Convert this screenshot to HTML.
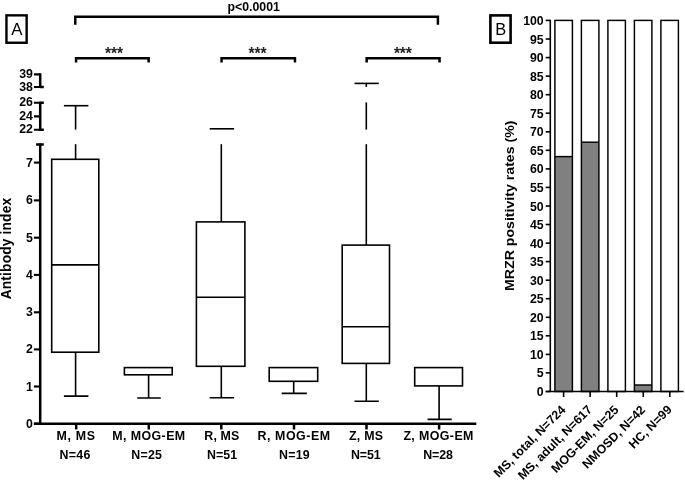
<!DOCTYPE html>
<html><head><meta charset="utf-8"><title>Figure</title>
<style>
html,body{margin:0;padding:0;background:#fff;}
svg{display:block;}
text{font-family:"Liberation Sans",Arial,sans-serif;fill:#000;}
.b{font-weight:bold;font-size:12.3px;}
.l{font-weight:bold;font-size:12.4px;}
.ax{stroke:#000;stroke-width:2.5;fill:none;}
.tk{stroke:#000;stroke-width:2.1;fill:none;}
.bx{stroke:#000;stroke-width:1.6;fill:none;}
.br{stroke:#000;stroke-width:1.45;fill:none;}
.bb{stroke:#000;stroke-width:1.6;}
</style></head><body>
<svg width="685" height="481" viewBox="0 0 685 481">
<rect width="685" height="481" fill="#fff"/>

<rect x="6.45" y="15.35" width="20.2" height="27.4" fill="#fff" stroke="#000" stroke-width="2.4"/>
<text x="16.75" y="35.4" font-size="16.8" text-anchor="middle">A</text>
<rect x="490.4" y="15.4" width="20.2" height="27.3" fill="#fff" stroke="#000" stroke-width="2.6"/>
<text x="500.65" y="34.7" font-size="16.4" text-anchor="middle">B</text>
<path class="ax" d="M75.3 24.8V16.8H437.9V24.8"/>
<text class="b" x="253.7" y="10.6" text-anchor="middle">p&lt;0.0001</text>
<path class="ax" d="M76.05 62.6V58.2H148.65V62.6"/>
<text x="114.0" y="58.6" style="font-size:15.6px;fill:#222" font-weight="bold" text-anchor="middle" textLength="18.0" lengthAdjust="spacing">***</text>
<path class="ax" d="M221.55 62.6V58.2H294.95V62.6"/>
<text x="257.5" y="58.6" style="font-size:15.6px;fill:#222" font-weight="bold" text-anchor="middle" textLength="18.0" lengthAdjust="spacing">***</text>
<path class="ax" d="M366.65 62.6V58.2H439.55V62.6"/>
<text x="402.9" y="58.6" style="font-size:15.6px;fill:#222" font-weight="bold" text-anchor="middle" textLength="18.0" lengthAdjust="spacing">***</text>
<path class="ax" d="M40.2 73.3V88.1M40.2 101.7V130.9M40.2 143.6V424.9"/>
<path class="tk" d="M33.9 74.4H40.2M33.9 87H40.2M33.9 102.8H40.2M33.9 129.8H40.2M33.9 116.4H40.2"/>
<path class="ax" d="M40.2 87H43.8M40.2 102.8H43.8M40.2 129.8H43.8M36.1 144.6H43.8"/>
<path class="tk" d="M33.9 423.7H40.2"/>
<text class="b" x="32.9" y="427.7" text-anchor="end">0</text>
<path class="tk" d="M33.9 386.5H40.2"/>
<text class="b" x="32.9" y="390.5" text-anchor="end">1</text>
<path class="tk" d="M33.9 349.4H40.2"/>
<text class="b" x="32.9" y="353.4" text-anchor="end">2</text>
<path class="tk" d="M33.9 312.3H40.2"/>
<text class="b" x="32.9" y="316.3" text-anchor="end">3</text>
<path class="tk" d="M33.9 274.9H40.2"/>
<text class="b" x="32.9" y="278.9" text-anchor="end">4</text>
<path class="tk" d="M33.9 237.7H40.2"/>
<text class="b" x="32.9" y="241.7" text-anchor="end">5</text>
<path class="tk" d="M33.9 200.4H40.2"/>
<text class="b" x="32.9" y="204.4" text-anchor="end">6</text>
<path class="tk" d="M33.9 162.6H40.2"/>
<text class="b" x="32.9" y="166.6" text-anchor="end">7</text>
<text class="b" x="32.9" y="78.0" text-anchor="end">39</text>
<text class="b" x="32.9" y="90.6" text-anchor="end">38</text>
<text class="b" x="32.9" y="106.4" text-anchor="end">26</text>
<text class="b" x="32.9" y="120.0" text-anchor="end">24</text>
<text class="b" x="32.9" y="133.4" text-anchor="end">22</text>
<path class="ax" d="M33.9 423.65H476.3"/>
<path class="ax" d="M76.2 423.2V429.5"/>
<path class="ax" d="M148.8 423.2V429.5"/>
<path class="ax" d="M221.3 423.2V429.5"/>
<path class="ax" d="M294 423.2V429.5"/>
<path class="ax" d="M366.5 423.2V429.5"/>
<path class="ax" d="M439.1 423.2V429.5"/>
<text class="l" x="76.19" y="440.2" text-anchor="middle" style="letter-spacing:0.68px">M, MS</text>
<text class="l" x="75.00" y="458.9" text-anchor="middle" style="letter-spacing:0.30px">N=46</text>
<text class="l" x="148.87" y="440.2" text-anchor="middle" style="letter-spacing:0.44px">M, MOG-EM</text>
<text class="l" x="146.77" y="458.9" text-anchor="middle" style="letter-spacing:0.23px">N=25</text>
<text class="l" x="221.88" y="440.2" text-anchor="middle" style="letter-spacing:0.15px">R, MS</text>
<text class="l" x="222.13" y="458.9" text-anchor="middle" style="letter-spacing:0.07px">N=51</text>
<text class="l" x="294.12" y="440.2" text-anchor="middle" style="letter-spacing:0.54px">R, MOG-EM</text>
<text class="l" x="294.47" y="458.9" text-anchor="middle" style="letter-spacing:0.23px">N=19</text>
<text class="l" x="366.15" y="440.2" text-anchor="middle" style="letter-spacing:0.30px">Z, MS</text>
<text class="l" x="365.80" y="458.9" text-anchor="middle" style="letter-spacing:-0.10px">N=51</text>
<text class="l" x="438.60" y="440.2" text-anchor="middle" style="letter-spacing:0.40px">Z, MOG-EM</text>
<text class="l" x="438.05" y="458.9" text-anchor="middle" style="letter-spacing:-0.10px">N=28</text>
<text class="l" transform="translate(11.2 299.3) rotate(-90)" style="font-size:13.8px" textLength="101.5" lengthAdjust="spacing">Antibody index</text>
<rect class="bx" x="51.7" y="159.3" width="47.1" height="192.9"/>
<path class="bx" d="M51.7 264.9H98.8"/>
<path class="bx" d="M75.6 352.2V396.1M63.9 396.1H88.4"/>
<path class="bx" d="M75.6 105.7V129.6"/>
<path class="bx" d="M75.6 144.2V159.3"/>
<path class="bx" d="M63.9 105.7H88.4"/>
<rect class="bx" x="124.4" y="367.6" width="47.8" height="7.2"/>
<path class="bx" d="M148.6 374.8V398.0M137.2 398.0H160.8"/>
<rect class="bx" x="196.4" y="221.9" width="48.5" height="144.4"/>
<path class="bx" d="M196.4 297.3H244.9"/>
<path class="bx" d="M221.3 366.3V397.7M209.7 397.7H234.1"/>
<path class="bx" d="M221.3 144.2V221.9"/>
<path class="bx" d="M209.7 128.8H234.1"/>
<rect class="bx" x="269.2" y="367.6" width="48.5" height="13.7"/>
<path class="bx" d="M293.7 381.3V393.4M281.7 393.4H306.8"/>
<rect class="bx" x="342.2" y="245.1" width="47.3" height="118.3"/>
<path class="bx" d="M342.2 326.8H389.5"/>
<path class="bx" d="M366.3 363.4V401.2M354.5 401.2H378.8"/>
<path class="bx" d="M366.3 83.4V86.9"/>
<path class="bx" d="M366.3 102.4V129.6"/>
<path class="bx" d="M366.3 144.2V245.1"/>
<path class="bx" d="M354.5 83.4H378.8"/>
<rect class="bx" x="414.7" y="367.6" width="47.8" height="18.3"/>
<path class="bx" d="M439.1 385.9V419.4M427.6 419.4H451.7"/>
<path class="bb" d="M545.7 391.5H550.3"/>
<text class="b" x="543.7" y="396.0" text-anchor="end">0</text>
<path class="bb" d="M545.7 372.9H550.3"/>
<text class="b" x="543.7" y="377.4" text-anchor="end">5</text>
<path class="bb" d="M545.7 354.4H550.3"/>
<text class="b" x="543.7" y="358.9" text-anchor="end">10</text>
<path class="bb" d="M545.7 335.8H550.3"/>
<text class="b" x="543.7" y="340.3" text-anchor="end">15</text>
<path class="bb" d="M545.7 317.3H550.3"/>
<text class="b" x="543.7" y="321.8" text-anchor="end">20</text>
<path class="bb" d="M545.7 298.7H550.3"/>
<text class="b" x="543.7" y="303.2" text-anchor="end">25</text>
<path class="bb" d="M545.7 280.2H550.3"/>
<text class="b" x="543.7" y="284.7" text-anchor="end">30</text>
<path class="bb" d="M545.7 261.6H550.3"/>
<text class="b" x="543.7" y="266.1" text-anchor="end">35</text>
<path class="bb" d="M545.7 243.1H550.3"/>
<text class="b" x="543.7" y="247.6" text-anchor="end">40</text>
<path class="bb" d="M545.7 224.5H550.3"/>
<text class="b" x="543.7" y="229.0" text-anchor="end">45</text>
<path class="bb" d="M545.7 206.0H550.3"/>
<text class="b" x="543.7" y="210.5" text-anchor="end">50</text>
<path class="bb" d="M545.7 187.4H550.3"/>
<text class="b" x="543.7" y="191.9" text-anchor="end">55</text>
<path class="bb" d="M545.7 168.9H550.3"/>
<text class="b" x="543.7" y="173.4" text-anchor="end">60</text>
<path class="bb" d="M545.7 150.3H550.3"/>
<text class="b" x="543.7" y="154.8" text-anchor="end">65</text>
<path class="bb" d="M545.7 131.8H550.3"/>
<text class="b" x="543.7" y="136.3" text-anchor="end">70</text>
<path class="bb" d="M545.7 113.2H550.3"/>
<text class="b" x="543.7" y="117.7" text-anchor="end">75</text>
<path class="bb" d="M545.7 94.7H550.3"/>
<text class="b" x="543.7" y="99.2" text-anchor="end">80</text>
<path class="bb" d="M545.7 76.1H550.3"/>
<text class="b" x="543.7" y="80.6" text-anchor="end">85</text>
<path class="bb" d="M545.7 57.6H550.3"/>
<text class="b" x="543.7" y="62.1" text-anchor="end">90</text>
<path class="bb" d="M545.7 39.0H550.3"/>
<text class="b" x="543.7" y="43.5" text-anchor="end">95</text>
<path class="bb" d="M545.7 20.4H550.3"/>
<text class="b" x="543.7" y="24.9" text-anchor="end">100</text>
<rect x="554.90" y="156.6" width="17.5" height="234.9" fill="#808080"/>
<path class="br" d="M554.90 156.6H572.45"/>
<rect class="br" x="554.90" y="20.4" width="17.5" height="371.1"/>
<path class="bb" d="M563.60 391.5V397.0"/>
<rect x="581.40" y="142.2" width="17.5" height="249.3" fill="#808080"/>
<path class="br" d="M581.40 142.2H598.95"/>
<rect class="br" x="581.40" y="20.4" width="17.5" height="371.1"/>
<path class="bb" d="M590.15 391.5V397.0"/>
<rect class="br" x="607.90" y="20.4" width="17.5" height="371.1"/>
<path class="bb" d="M616.70 391.5V397.0"/>
<rect x="634.40" y="385.0" width="17.5" height="6.5" fill="#808080"/>
<path class="br" d="M634.40 385.0H651.95"/>
<rect class="br" x="634.40" y="20.4" width="17.5" height="371.1"/>
<path class="bb" d="M643.25 391.5V397.0"/>
<rect class="br" x="660.90" y="20.4" width="17.5" height="371.1"/>
<path class="bb" d="M669.80 391.5V397.0"/>
<path class="bb" d="M550.3 19.65V392.3M545.7 391.5H683.6" fill="none"/>
<text class="l" transform="translate(566.30 410.5) rotate(-45)" text-anchor="end">MS, total, N=724</text>
<text class="l" transform="translate(592.85 410.5) rotate(-45)" text-anchor="end">MS, adult, N=617</text>
<text class="l" transform="translate(619.40 410.5) rotate(-45)" text-anchor="end">MOG-EM, N=25</text>
<text class="l" transform="translate(645.95 410.5) rotate(-45)" text-anchor="end">NMOSD, N=42</text>
<text class="l" transform="translate(672.50 410.5) rotate(-45)" text-anchor="end">HC, N=99</text>
<text class="l" transform="translate(513.5 291) rotate(-90)" style="font-size:13.3px" textLength="170.5" lengthAdjust="spacingAndGlyphs">MRZR positivity rates (%)</text>
</svg></body></html>
